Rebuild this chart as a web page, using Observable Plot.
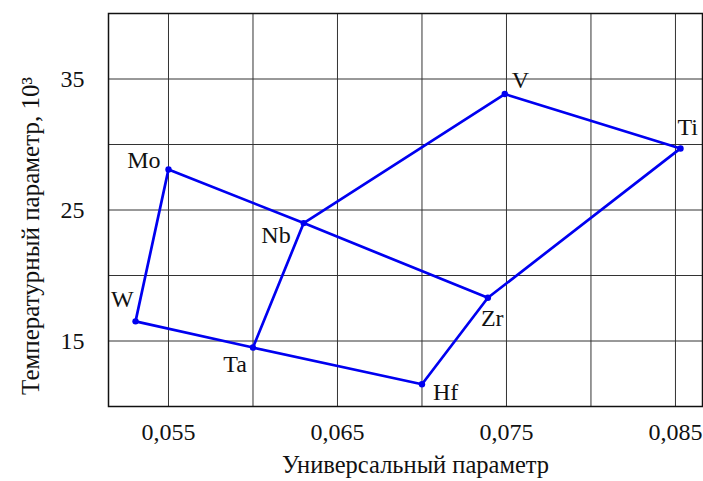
<!DOCTYPE html>
<html>
<head>
<meta charset="utf-8">
<script src="https://cdn.jsdelivr.net/npm/d3@7"></script>
<script src="https://cdn.jsdelivr.net/npm/@observablehq/plot@0.6"></script>
<style>
  html, body { margin: 0; padding: 0; background: #fff; }
  #chart svg { display: block; }
  #chart svg, #chart svg text { font-family: "Liberation Serif", "DejaVu Serif", serif !important; }
</style>
</head>
<body>
<div id="chart"></div>
<script>
// ---- data ----
const elements    = ["Mo", "W", "Ta", "Hf", "Zr", "Ti", "V", "Nb"];
const universal   = [0.0550, 0.05305, 0.0600, 0.0700, 0.0739, 0.0853, 0.0749, 0.0630];
const temperature = [28.1, 16.5, 14.5, 11.7, 18.3, 29.7, 33.85, 24.0];
const outlinePath  = ["Mo", "W", "Ta", "Hf", "Zr", "Ti", "V", "Nb", "Ta"];
const diagonalPath = ["Mo", "Nb", "Zr"];
const xGridTicks = [0.055, 0.060, 0.065, 0.070, 0.075, 0.080, 0.085];
const xLabelTicks = [0.055, 0.065, 0.075, 0.085];
const yGridTicks = [15, 20, 25, 30, 35];
const yLabelTicks = [15, 25, 35];
const xTitle = "Универсальный параметр";
const yTitle = "Температурный параметр, 10³";

// ---- build table ----
const points = elements.map((name, i) => ({name, x: universal[i], y: temperature[i]}));
const byName = Object.fromEntries(points.map(p => [p.name, p]));
const segments = [
  ...outlinePath.map(n => ({...byName[n], path: "outline"})),
  ...diagonalPath.map(n => ({...byName[n], path: "diagonal"}))
];

// label placement (styling only)
const place = {
  Mo: {textAnchor: "end",   dx: -8,  dy: -1},
  V:  {textAnchor: "start", dx: 7,   dy: -6},
  Ti: {textAnchor: "start", dx: -3,  dy: -13},
  Nb: {textAnchor: "end",   dx: -13, dy: 20},
  W:  {textAnchor: "end",   dx: -2,  dy: -14},
  Ta: {textAnchor: "end",   dx: -6,  dy: 24},
  Hf: {textAnchor: "start", dx: 11,  dy: 16},
  Zr: {textAnchor: "start", dx: -7,  dy: 28}
};

const fmt = d => d.toFixed(3).replace(".", ",");
const font = "'Liberation Serif', 'DejaVu Serif', serif";
const blue = "#0000f0";

const labelMarks = points.map(p => Plot.text([p], {
  x: "x", y: "y", text: "name",
  lineAnchor: "bottom", fontSize: 24, fill: "#111", fontFamily: font,
  ...place[p.name]
}));

const chart = Plot.plot({
  width: 703,
  height: 481,
  marginLeft: 108,
  marginRight: 1,
  marginTop: 13,
  marginBottom: 75,
  style: {fontSize: "24px", color: "#111", background: "#fff"},
  x: {domain: [0.05145, 0.0866]},
  y: {domain: [10, 40]},
  marks: [
    Plot.gridX(xGridTicks, {stroke: "#333", strokeOpacity: 1, strokeWidth: 1}),
    Plot.gridY(yGridTicks, {stroke: "#333", strokeOpacity: 1, strokeWidth: 1}),
    Plot.axisX(xLabelTicks, {tickSize: 0, tickPadding: 16, tickFormat: fmt, fontSize: 24, fontFamily: font, label: null}),
    Plot.axisY(yLabelTicks, {tickSize: 0, tickPadding: 24, fontSize: 24, fontFamily: font, label: null}),
    Plot.frame({stroke: "#111", strokeWidth: 1.5}),
    Plot.line(segments, {x: "x", y: "y", z: "path", stroke: blue, strokeWidth: 2.7, strokeLinejoin: "round"}),
    Plot.dot(points, {x: "x", y: "y", r: 3.2, fill: blue}),
    ...labelMarks,
    Plot.text([xTitle], {frameAnchor: "bottom", text: d => d, dx: 10, dy: 59, textAnchor: "middle", lineAnchor: "middle", fontSize: 24.5, fill: "#111", fontFamily: font}),
    Plot.text([yTitle], {frameAnchor: "left", text: d => d, rotate: -90, dx: -78, dy: 26, textAnchor: "middle", lineAnchor: "middle", fontSize: 25, fill: "#111", fontFamily: font})
  ]
});
document.getElementById("chart").appendChild(chart);
</script>
</body>
</html>
